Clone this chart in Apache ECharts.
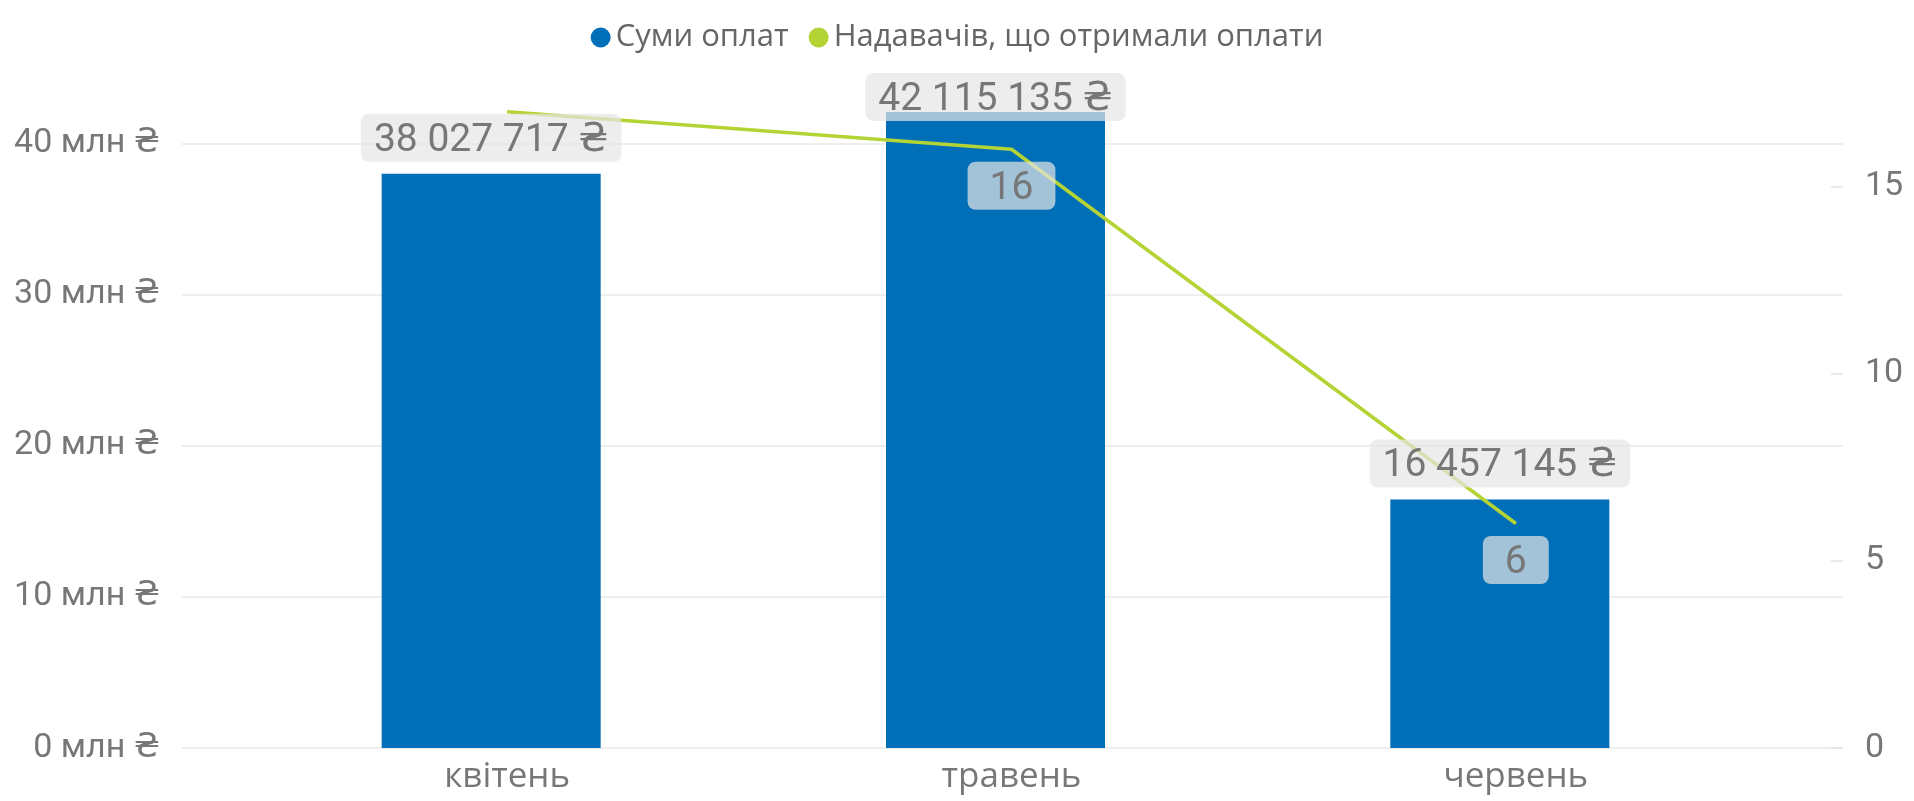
<!DOCTYPE html>
<html>
<head>
<meta charset="utf-8">
<script src="https://cdn.jsdelivr.net/npm/echarts@6/dist/echarts.min.js"></script>
<style>
  html, body { margin: 0; padding: 0; background: #ffffff; }
  #chart { width: 1914px; height: 801px; }
</style>
</head>
<body>
<div id="chart"></div>
<script>
// Monthly payments and number of providers paid
const months = ['квітень', 'травень', 'червень'];
const paymentSums = [38027717, 42115135, 16457145];
const providerCounts = [17, 16, 6];
const sumTicks = [0, 10000000, 20000000, 30000000, 40000000];
const countTicks = [0, 5, 10, 15];
const seriesNames = ['Суми оплат', 'Надавачів, що отримали оплати'];

// Axis extents (both scales share the same zero line)
const SUM_MAX = 46887000;
const COUNT_MAX = 18.92;

const BAR_COLOR = '#006FB8';
const LINE_COLOR = '#B4D334';
const TEXT_GRAY = '#777777';
const LABEL_BG = 'rgba(230,230,230,0.71)';
const NUM_FONT = 'Roboto, "DejaVu Sans", sans-serif';

function formatUAH(v) {
  return String(Math.round(v)).replace(/\B(?=(\d{3})+(?!\d))/g, ' ') + ' ₴';
}

const valueLabel = {
  fontFamily: NUM_FONT,
  fontSize: 39,
  lineHeight: 40,
  color: TEXT_GRAY,
  backgroundColor: LABEL_BG,
  borderRadius: 8
};

const chart = echarts.init(document.getElementById('chart'), null, { renderer: 'canvas' });

chart.setOption({
  animation: false,
  backgroundColor: '#ffffff',
  legend: {
    data: seriesNames,
    top: 17,
    left: 'center',
    icon: 'circle',
    itemWidth: 20,
    itemHeight: 20,
    itemGap: 20,
    textStyle: { fontFamily: 'Open Sans', fontSize: 31, color: '#666666' }
  },
  grid: [
    { left: 182, right: 71, top: 40, bottom: 53 },   // frame: value axes and gridlines
    { left: 239, right: 162, top: 40, bottom: 53 },  // bars
    { left: 255, right: 146, top: 40, bottom: 53 }   // line and month labels
  ],
  xAxis: [
    { gridIndex: 0, type: 'category', data: months, show: false },
    { gridIndex: 1, type: 'category', data: months, show: false },
    {
      gridIndex: 2, type: 'category', data: months,
      axisLine: { show: false },
      axisTick: { show: false },
      axisLabel: { fontFamily: 'Open Sans', fontSize: 35, color: TEXT_GRAY, margin: 12 }
    }
  ],
  yAxis: [
    {
      gridIndex: 0, type: 'value', position: 'left',
      min: 0, max: SUM_MAX, interval: 10000000,
      axisLine: { show: false },
      axisTick: { show: false },
      axisLabel: {
        customValues: sumTicks,
        margin: 22,
        fontFamily: NUM_FONT, fontSize: 34, color: TEXT_GRAY,
        formatter: v => (v / 1000000) + ' млн ₴'
      },
      splitLine: { show: true, showMaxLine: false, lineStyle: { color: '#E8E8E8', width: 1.5 } }
    },
    {
      gridIndex: 0, type: 'value', position: 'right',
      min: 0, max: COUNT_MAX, interval: 5,
      axisLine: { show: false },
      axisTick: {
        show: true, inside: true, length: 12,
        customValues: countTicks,
        lineStyle: { color: '#E3E3E3', width: 1.5 }
      },
      axisLabel: {
        customValues: countTicks,
        margin: 22,
        fontFamily: NUM_FONT, fontSize: 34, color: TEXT_GRAY
      },
      splitLine: { show: false }
    },
    { gridIndex: 1, type: 'value', min: 0, max: SUM_MAX, show: false },
    { gridIndex: 2, type: 'value', min: 0, max: COUNT_MAX, show: false }
  ],
  series: [
    {
      name: seriesNames[0],
      type: 'bar',
      xAxisIndex: 1, yAxisIndex: 2,
      data: paymentSums,
      barWidth: 219,
      barGap: '-100%',
      itemStyle: { color: BAR_COLOR },
      z: 2
    },
    {
      name: seriesNames[1],
      type: 'line',
      xAxisIndex: 2, yAxisIndex: 3,
      data: providerCounts.map((v, i) => i === 0 ? { value: v, label: { show: false } } : v),
      symbol: 'circle',
      symbolSize: 1,
      showSymbol: true,
      itemStyle: { color: LINE_COLOR },
      lineStyle: { color: LINE_COLOR, width: 3.5 },
      label: Object.assign({
        show: true,
        position: 'bottom',
        distance: 12,
        padding: [7, 22, 1, 22]
      }, valueLabel),
      z: 3
    },
    {
      // value labels for the payment bars, kept above the line
      name: seriesNames[0],
      type: 'bar',
      xAxisIndex: 1, yAxisIndex: 2,
      data: paymentSums.map((v, i) => i === 1 ? { value: v, label: { offset: [0, 21] } } : v),
      barWidth: 219,
      barGap: '-100%',
      silent: true,
      itemStyle: { color: 'rgba(0,0,0,0)' },
      label: Object.assign({
        show: true,
        position: 'top',
        distance: 12,
        padding: [7, 13, 1, 13],
        formatter: p => formatUAH(p.value)
      }, valueLabel),
      z: 4
    }
  ]
});
</script>
</body>
</html>
